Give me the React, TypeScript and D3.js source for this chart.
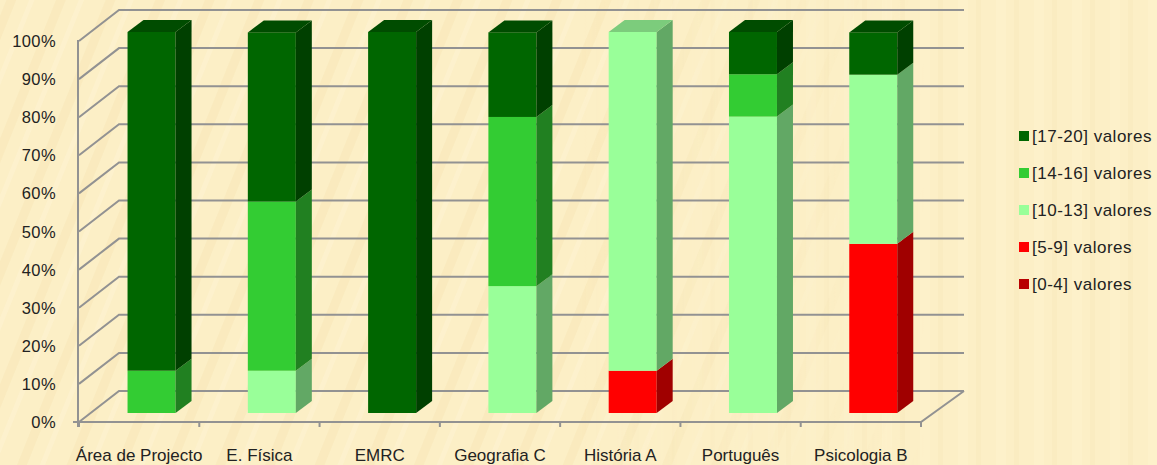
import React from "react";
import * as d3 from "d3";

const W = 1157, H = 465;
const categories = ["Área de Projecto", "E. Física", "EMRC", "Geografia C", "História A", "Português", "Psicologia B"];
const band04 = [0, 0, 0, 0, 0, 0, 0];
const band59 = [0, 0, 0, 0, 11.1, 0, 44.4];
const band1013 = [0, 11.1, 0, 33.3, 88.9, 77.8, 44.4];
const band1416 = [11.1, 44.4, 0, 44.4, 0, 11.1, 0];
const band1720 = [88.9, 44.4, 100, 22.2, 0, 11.1, 11.1];
const seriesNames = ["[0-4] valores", "[5-9] valores", "[10-13] valores", "[14-16] valores", "[17-20] valores"];
const front = ["#b80000", "#ff0000", "#99ff99", "#33cc33", "#006600"];
const side = ["#800000", "#a00000", "#62a865", "#218021", "#004000"];
const top = ["#900000", "#c00000", "#7ccc7c", "#29a329", "#004c00"];
const yTicks = [0, 10, 20, 30, 40, 50, 60, 70, 80, 90, 100];
const allSeries = [band04, band59, band1013, band1416, band1720];

const FONT = "'Liberation Sans', sans-serif";
const GRID = "#929292";

export default function App() {
  const x = d3.scaleBand<number>().domain(categories.map((_, i) => i)).range([79, 921]);
  const yAxis = d3.scaleLinear().domain([0, 100]).range([422, 41]);
  const yBar = d3.scaleLinear().domain([0, 100]).range([413, 32]);
  const dx = 40, dy = -31;
  const bdx = 16, bdy = -12;
  const barW = 48;

  const legendOrder = [4, 3, 2, 1, 0];
  return (
    <svg width={W} height={H} style={{ position: "absolute", left: 0, top: 0 }}>
      <defs>
        <pattern id="streak" width="46" height="90" patternUnits="userSpaceOnUse" patternTransform="rotate(22)">
          <rect x="6" width="9" height="90" fill="#f3dfa8" opacity="0.28" />
          <rect x="27" width="5" height="90" fill="#fff6d8" opacity="0.35" />
        </pattern>
        <pattern id="vstreak" width="38" height="90" patternUnits="userSpaceOnUse">
          <rect x="8" width="10" height="90" fill="#fff6d6" opacity="0.3" />
          <rect x="26" width="5" height="90" fill="#f5e3b0" opacity="0.2" />
        </pattern>
        <linearGradient id="fade" x1="0" x2="1" y1="0" y2="0">
          <stop offset="0" stopColor="#fff" />
          <stop offset="0.5" stopColor="#fff" />
          <stop offset="0.8" stopColor="#000" />
        </linearGradient>
        <linearGradient id="fadeInv" x1="0" x2="1" y1="0" y2="0">
          <stop offset="0.5" stopColor="#000" />
          <stop offset="0.8" stopColor="#fff" />
        </linearGradient>
        <mask id="fadeMask"><rect width={W} height={H} fill="url(#fade)" /></mask>
        <mask id="fadeMaskInv"><rect width={W} height={H} fill="url(#fadeInv)" /></mask>
      </defs>
      <rect width={W} height={H} fill="#fcefc6" />
      <rect width={W} height={H} fill="url(#streak)" mask="url(#fadeMask)" />
      <rect width={W} height={H} fill="url(#vstreak)" mask="url(#fadeMaskInv)" />

      <g stroke={GRID} strokeWidth={2} fill="none">
        {yTicks.map((t) => (
          <path key={t} d={`M${x.range()[0]},${yAxis(t)}L${x.range()[0] + dx},${yAxis(t) + dy}L${x.range()[1] + dx + 3},${yAxis(t) + dy}`} />
        ))}
        <path d={`M${x.range()[0] - 1},${yAxis(100) - 1}V${yAxis(0) + 5}`} />
        <path d={`M${x.range()[0] - 6},${yAxis(0)}H${x.range()[1]}L${x.range()[1] + dx + 3},${yAxis(0) + dy}`} />
        {categories.map((_, i) => (
          <path key={i} d={`M${x(i)},${yAxis(0)}v5`} />
        ))}
        <path d={`M${x.range()[1]},${yAxis(0)}v5`} />
      </g>

      {categories.map((c, i) => {
        const bx = (x(i) as number) + (x.bandwidth() - barW) / 2 + 12.4;
        let acc = 0;
        return (
          <g key={c}>
            {allSeries.map((s, si) => {
              const v = s[i];
              if (!v) return null;
              const y0 = yBar(acc), y1 = yBar(acc + v);
              acc += v;
              const isTop = Math.abs(acc - 100) < 0.5;
              return (
                <g key={si}>
                  <rect x={bx} y={y1} width={barW} height={y0 - y1} fill={front[si]} />
                  <path d={`M${bx + barW},${y0}l${bdx},${bdy}V${y1 + bdy}l${-bdx},${-bdy}Z`} fill={side[si]} />
                  {isTop && <path d={`M${bx},${y1}l${bdx},${bdy}h${barW}l${-bdx},${-bdy}Z`} fill={top[si]} />}
                </g>
              );
            })}
          </g>
        );
      })}

      <g fontFamily={FONT} fill="#222">
        {yTicks.map((t) => (
          <text key={t} x={56} y={yAxis(t) + 6} textAnchor="end" fontSize={16.5} letterSpacing={0.4}>{t}%</text>
        ))}
        {categories.map((c, i) => (
          <text key={c} x={(x(i) as number) + x.bandwidth() / 2} y={461} textAnchor="middle" fontSize={17}>{c}</text>
        ))}
        {legendOrder.map((si, k) => (
          <g key={si}>
            <rect x={1019} y={131 + k * 37} width={10} height={10} fill={front[si]} />
            <text x={1032} y={141.5 + k * 37} fontSize={17} letterSpacing={0.5}>{seriesNames[si]}</text>
          </g>
        ))}
      </g>
    </svg>
  );
}
